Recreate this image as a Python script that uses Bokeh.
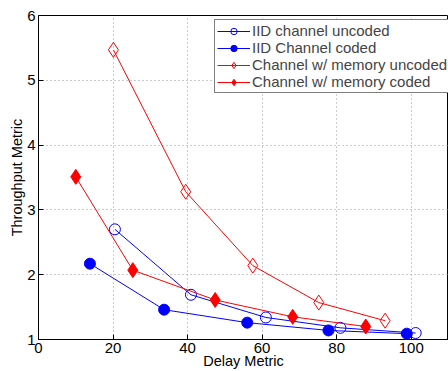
from bokeh.plotting import figure
from bokeh.models import Range1d, FixedTicker, Legend, LegendItem
from bokeh.embed import file_html
from bokeh.resources import INLINE

# Data
iid_unc_x = [20.5, 40.9, 61.0, 81.0, 101.2]
iid_unc_y = [2.70, 1.69, 1.34, 1.18, 1.10]
iid_cod_x = [13.8, 33.7, 56.0, 77.8, 98.8]
iid_cod_y = [2.17, 1.46, 1.26, 1.14, 1.09]
mem_unc_x = [20.1, 39.5, 57.5, 75.2, 93.0]
mem_unc_y = [5.47, 3.28, 2.14, 1.57, 1.29]
mem_cod_x = [10.0, 25.3, 47.4, 68.2, 87.8]
mem_cod_y = [3.51, 2.07, 1.61, 1.35, 1.20]
x_ticks = [0, 20, 40, 60, 80, 100]
y_ticks = [1, 2, 3, 4, 5, 6]
labels = ["IID channel uncoded", "IID Channel coded",
          "Channel w/ memory uncoded", "Channel w/ memory coded"]

FONT = "Liberation Sans"

p = figure(width=448, height=371, output_backend="svg", toolbar_location=None,
           x_range=Range1d(0, 110), y_range=Range1d(1, 6),
           min_border_left=38, min_border_right=0, min_border_top=15, min_border_bottom=0)
p.background_fill_color = "white"
p.border_fill_color = "white"
p.outline_line_color = "black"
p.outline_line_width = 1

for ax in (p.xaxis[0], p.yaxis[0]):
    ax.major_label_text_font = FONT
    ax.major_label_text_font_size = "15px"
    ax.major_label_text_color = "black"
    ax.axis_label_text_font = FONT
    ax.axis_label_text_font_size = "14.5px"
    ax.axis_label_text_font_style = "normal"
    ax.axis_label_text_color = "black"
    ax.major_tick_in = 5
    ax.major_tick_out = 0
    ax.minor_tick_in = 0
    ax.minor_tick_out = 0
    ax.axis_line_color = "black"
    ax.major_tick_line_color = "black"

p.xaxis.ticker = FixedTicker(ticks=x_ticks)
p.yaxis.ticker = FixedTicker(ticks=y_ticks)
p.xaxis.axis_label = "Delay Metric"
p.yaxis.axis_label = "Throughput Metric"
p.xaxis.major_label_standoff = 3
p.xaxis.axis_label_standoff = -3
p.yaxis.major_label_standoff = 3
p.yaxis.axis_label_standoff = -1

p.xgrid.ticker = FixedTicker(ticks=x_ticks)
p.ygrid.ticker = FixedTicker(ticks=y_ticks)
p.grid.grid_line_color = "#999999"
p.grid.grid_line_dash = "1 3"
p.grid.grid_line_width = 1

blue = "#0000ff"
red = "#ff0000"

l1 = p.line(iid_unc_x, iid_unc_y, line_color=blue, line_width=1)
m1 = p.scatter(iid_unc_x, iid_unc_y, marker="circle", size=11, line_color=blue,
               fill_color="white", fill_alpha=0, line_width=1)
l2 = p.line(iid_cod_x, iid_cod_y, line_color=blue, line_width=1)
m2 = p.scatter(iid_cod_x, iid_cod_y, marker="circle", size=11, line_color=blue,
               fill_color=blue, line_width=1)
l3 = p.line(mem_unc_x, mem_unc_y, line_color=red, line_width=1)
m3 = p.scatter(mem_unc_x, mem_unc_y, marker="diamond", size=15, line_color=red,
               fill_color="white", fill_alpha=0, line_width=1)
l4 = p.line(mem_cod_x, mem_cod_y, line_color=red, line_width=1)
m4 = p.scatter(mem_cod_x, mem_cod_y, marker="diamond", size=15, line_color=red,
               fill_color=red, line_width=1)

legend = Legend(items=[LegendItem(label=labels[0], renderers=[l1, m1]),
                       LegendItem(label=labels[1], renderers=[l2, m2]),
                       LegendItem(label=labels[2], renderers=[l3, m3]),
                       LegendItem(label=labels[3], renderers=[l4, m4])],
                location=(176, 246), margin=0, padding=2, spacing=0,
                glyph_width=33, glyph_height=16, label_height=16, label_standoff=2,
                label_text_font=FONT, label_text_font_size="15px",
                border_line_color="black", border_line_width=1,
                background_fill_color="white", background_fill_alpha=1)
p.add_layout(legend, "center")

open("out.html", "w").write(file_html(p, INLINE))
